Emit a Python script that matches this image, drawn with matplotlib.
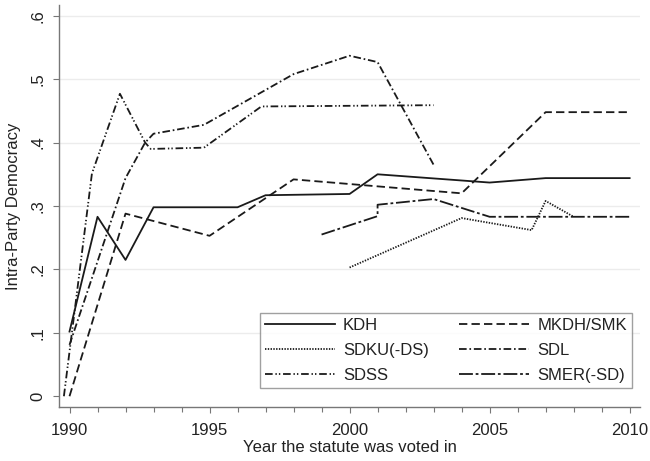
import matplotlib
matplotlib.use("Agg")
import matplotlib.pyplot as plt
from matplotlib.ticker import FixedLocator

plt.rcParams['font.family'] = ['Liberation Sans', 'DejaVu Sans']
plt.rcParams['lines.scale_dashes'] = False

# ---- data ----
kdh_years = [1990, 1991, 1992, 1993, 1996, 1997, 2000, 2001, 2005, 2007, 2010]
kdh_vals = [0.102, 0.283, 0.215, 0.298, 0.298, 0.317, 0.319, 0.350, 0.337, 0.344, 0.344]

mkdh_years = [1990, 1992, 1995, 1998, 2004, 2007, 2010]
mkdh_vals = [0.0, 0.288, 0.253, 0.342, 0.320, 0.448, 0.448]

sdku_years = [2000, 2004, 2006.5, 2007, 2008]
sdku_vals = [0.203, 0.281, 0.262, 0.308, 0.283]

sdl_years = [1990, 1992, 1992.7, 1993, 1994.8, 1998, 2000, 2001, 2003]
sdl_vals = [0.081, 0.344, 0.400, 0.414, 0.428, 0.508, 0.537, 0.527, 0.365]

sdss_years = [1989.8, 1990.8, 1991.8, 1992.7, 1992.9, 1994.8, 1996.85, 2003]
sdss_vals = [0.0, 0.351, 0.477, 0.400, 0.390, 0.392, 0.457, 0.459]

smer_years = [1999, 2001, 2001, 2003, 2005, 2010]
smer_vals = [0.255, 0.284, 0.302, 0.311, 0.283, 0.283]

y_ticks = [0, 0.1, 0.2, 0.3, 0.4, 0.5, 0.6]
y_labels = ['0', '.1', '.2', '.3', '.4', '.5', '.6']
x_ticks = [1990, 1995, 2000, 2005, 2010]

# ---- figure ----
fig = plt.figure(figsize=(6.5, 4.61), dpi=100)
ax = fig.add_axes([59/650, (461-406.7)/461, 581/650, 401.7/461])

lc = '#1a1a1a'
lw = 1.3
ax.plot(kdh_years, kdh_vals, color=lc, lw=lw, linestyle='-', label='KDH')
ax.plot(sdku_years, sdku_vals, color=lc, lw=lw, linestyle=(0, (1.0, 1.0)), label='SDKU(-DS)')
ax.plot(sdss_years, sdss_vals, color=lc, lw=lw, linestyle=(0, (5.5, 2, 1, 1.5, 1, 2)), label='SDSS')
ax.plot(mkdh_years, mkdh_vals, color=lc, lw=lw, linestyle=(0, (6, 3)), label='MKDH/SMK')
ax.plot(sdl_years, sdl_vals, color=lc, lw=lw, linestyle=(0, (5.5, 2, 1.2, 2)), label='SDL')
ax.plot(smer_years, smer_vals, color=lc, lw=lw, linestyle=(0, (10, 2, 2, 2)), label='SMER(-SD)')

ax.set_xlim(1989.625, 2010.37)
ax.set_ylim(-0.0165, 0.617)

for v in y_ticks[1:]:
    ax.axhline(v, color='#ececec', lw=1.0, zorder=0)

ax.yaxis.set_major_locator(FixedLocator(y_ticks))
ax.set_yticklabels(y_labels, rotation=90, va='center')
ax.xaxis.set_major_locator(FixedLocator(x_ticks))
ax.xaxis.set_minor_locator(FixedLocator(list(range(1990, 2011))))

for s in ['top', 'right']:
    ax.spines[s].set_visible(False)
for s in ['left', 'bottom']:
    ax.spines[s].set_color('#777777')
    ax.spines[s].set_linewidth(1.0)

ax.tick_params(axis='both', which='major', direction='out', length=4.5, width=0.8,
               color='#777777', labelsize=12, labelcolor='#222222', pad=5)
ax.tick_params(axis='x', which='major', pad=7)
ax.tick_params(axis='x', which='minor', direction='out', length=3.5, width=0.8, color='#777777')

ax.set_xlabel('Year the statute was voted in', fontsize=12, color='#222222', labelpad=2)
ax.set_ylabel('Intra-Party Democracy', fontsize=12, color='#222222', labelpad=7)

leg = ax.legend(ncol=2, loc='lower right', bbox_to_anchor=(0.986, 0.0466),
                fontsize=12, frameon=True, fancybox=False, edgecolor='#888888',
                handlelength=4.2, handletextpad=0.5, columnspacing=1.8,
                labelspacing=0.6, borderpad=0.3, borderaxespad=0)
leg.get_frame().set_linewidth(1.0)
for t in leg.get_texts():
    t.set_color('#222222')

fig.savefig('out.png', dpi=100, facecolor='white')
